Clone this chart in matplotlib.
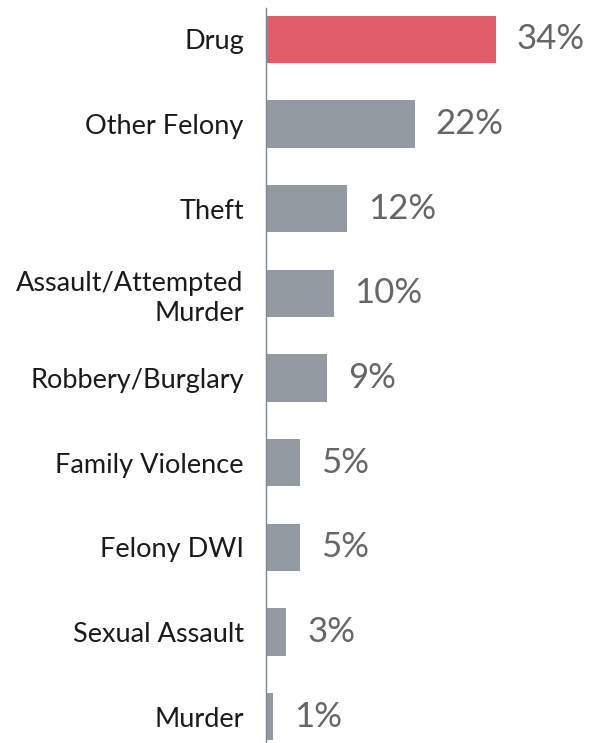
import matplotlib
matplotlib.use("Agg")
import matplotlib.pyplot as plt

categories = ["Drug", "Other Felony", "Theft", "Assault/Attempted\nMurder",
              "Robbery/Burglary", "Family Violence", "Felony DWI",
              "Sexual Assault", "Murder"]
values = [34, 22, 12, 10, 9, 5, 5, 3, 1]
colors = ["#E05C6A"] + ["#939AA1"] * 8

plt.rcParams['font.family'] = ['Lato', 'DejaVu Sans']

fig = plt.figure(figsize=(5.99, 7.43), dpi=100)
ax = fig.add_axes([266 / 599, 0, 1 - 266 / 599, 1 - 8 / 743])

ypos = list(range(len(values)))
ax.barh(ypos, values, height=0.56, color=colors)

for y, v in zip(ypos, values):
    ax.text(v + 3.1, y, f"{v}%", va="center", ha="left",
            fontsize=25, color="#666666")

ax.set_xlim(0, 49.3)
ax.set_ylim(8.313, -0.372)
ax.set_yticks(ypos)
ax.set_yticklabels(categories, fontsize=19.5, color="#1a1a1a", ha="right",
                   linespacing=1.25)
ax.tick_params(axis="y", length=0, pad=16)
ax.set_xticks([])

for s in ["top", "right", "bottom"]:
    ax.spines[s].set_visible(False)
ax.spines["left"].set_color("#7d8791")
ax.spines["left"].set_linewidth(1.0)

fig.savefig("out.png", dpi=100)
